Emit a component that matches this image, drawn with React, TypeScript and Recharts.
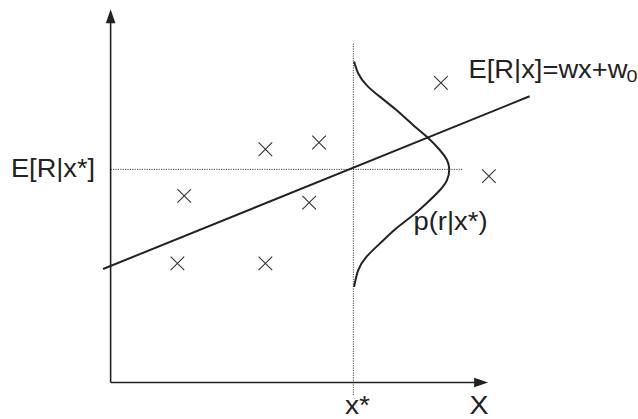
import { ReferenceLine, Scatter, ScatterChart, XAxis, YAxis } from 'recharts';

const X_DOMAIN: [number, number] = [-2.93, 13.97];
const Y_DOMAIN: [number, number] = [-0.98, 10.25];
const AXIS_END = 10;
const X_STAR = 6.43;
const E_AT_X_STAR = 5.71;

// Observed (x, r) samples, the crosses
const observations = [
  { x: 1.95, y: 5.0 },
  { x: 1.77, y: 3.19 },
  { x: 4.1, y: 6.25 },
  { x: 4.1, y: 3.19 },
  { x: 5.52, y: 6.43 },
  { x: 5.26, y: 4.82 },
  { x: 8.75, y: 8.03 },
  { x: 10.02, y: 5.53 },
];

// Fitted line E[R|x] = wx + w0, end points
const regressionLine = [
  { x: -0.2, y: 3.04 },
  { x: 11.1, y: 7.67 },
];

// p(r|x*) drawn sideways on the x* guide
const density = [
  { x: 6.45, y: 8.6 },
  { x: 6.56, y: 8.28 },
  { x: 6.78, y: 7.97 },
  { x: 7.13, y: 7.66 },
  { x: 7.57, y: 7.3 },
  { x: 8.01, y: 6.9 },
  { x: 8.37, y: 6.59 },
  { x: 8.72, y: 6.23 },
  { x: 8.91, y: 5.96 },
  { x: 8.97, y: 5.71 },
  { x: 8.91, y: 5.42 },
  { x: 8.72, y: 5.15 },
  { x: 8.37, y: 4.8 },
  { x: 8.01, y: 4.48 },
  { x: 7.57, y: 4.13 },
  { x: 7.13, y: 3.72 },
  { x: 6.78, y: 3.37 },
  { x: 6.56, y: 3.01 },
  { x: 6.45, y: 2.56 },
];

const arrowHeads = [
  { x: 0, y: AXIS_END, dir: 'up' },
  { x: AXIS_END, y: 0, dir: 'right' },
];

const INK = '#222';
const FONT = '"Liberation Sans", Arial, sans-serif';

function Cross(props: any) {
  const { cx, cy } = props;
  const r = 6.8;
  return (
    <path
      d={`M${cx - r},${cy - r}L${cx + r},${cy + r}M${cx - r},${cy + r}L${cx + r},${cy - r}`}
      stroke="#333"
      strokeWidth={1.1}
      fill="none"
    />
  );
}

function Arrow(props: any) {
  const { cx, cy, payload } = props;
  const len = 14;
  const half = 4.8;
  const pts =
    payload.dir === 'up'
      ? `${cx},${cy} ${cx - half},${cy + len} ${cx + half},${cy + len}`
      : `${cx},${cy} ${cx - len},${cy - half} ${cx - len},${cy + half}`;
  return <polygon points={pts} fill={INK} />;
}

const Nothing = () => <g />;

// the original lettering is a bit wider than Arial, so stretch to the measured widths
const stretch = { lengthAdjust: 'spacingAndGlyphs' as const };

export default function App() {
  return (
    <div style={{ position: 'absolute', left: 0, top: 0, background: '#fff' }}>
      <ScatterChart width={638} height={419} margin={{ top: 0, right: 0, bottom: 0, left: 0 }}>
        <XAxis type="number" dataKey="x" domain={X_DOMAIN} hide />
        <YAxis type="number" dataKey="y" domain={Y_DOMAIN} hide />

        {/* dotted guides at x* and E[R|x*] */}
        <ReferenceLine
          segment={[{ x: X_STAR, y: -0.34 }, { x: X_STAR, y: 9.1 }]}
          stroke="#444"
          strokeWidth={1}
          strokeDasharray="1.2 1.2"
          ifOverflow="visible"
        />
        <ReferenceLine
          segment={[{ x: 0, y: E_AT_X_STAR }, { x: 9.32, y: E_AT_X_STAR }]}
          stroke="#444"
          strokeWidth={1}
          strokeDasharray="1.2 1.2"
          ifOverflow="visible"
        />

        {/* axes */}
        <ReferenceLine
          segment={[{ x: 0, y: 0 }, { x: 0, y: 9.65 }]}
          stroke={INK}
          strokeWidth={1.6}
          ifOverflow="visible"
        />
        <ReferenceLine
          segment={[{ x: 0, y: 0 }, { x: 9.65, y: 0 }]}
          stroke={INK}
          strokeWidth={1.6}
          ifOverflow="visible"
        />
        <Scatter data={arrowHeads} shape={Arrow} isAnimationActive={false} />

        <Scatter
          data={regressionLine}
          line={{ stroke: INK, strokeWidth: 2 }}
          shape={Nothing}
          isAnimationActive={false}
        />
        <Scatter
          data={density}
          line={{ stroke: INK, strokeWidth: 2 }}
          lineJointType="natural"
          shape={Nothing}
          isAnimationActive={false}
        />
        <Scatter data={observations} shape={Cross} isAnimationActive={false} />

        <g fontFamily={FONT} fontSize={25} fill={INK}>
          <text x={11} y={177} textLength={84} {...stretch}>E[R|x*]</text>
          <text x={468.5} y={77.5} textLength={159} {...stretch}>E[R|x]=wx+w</text>
          <text x={626.5} y={81.5} fontSize={17} textLength={11} {...stretch}>0</text>
          <text x={413.5} y={229.5} textLength={74} {...stretch}>p(r|x*)</text>
          <text x={345} y={414} textLength={25} {...stretch}>x*</text>
          <text x={469.5} y={414} textLength={19} {...stretch}>X</text>
        </g>
      </ScatterChart>
    </div>
  );
}
